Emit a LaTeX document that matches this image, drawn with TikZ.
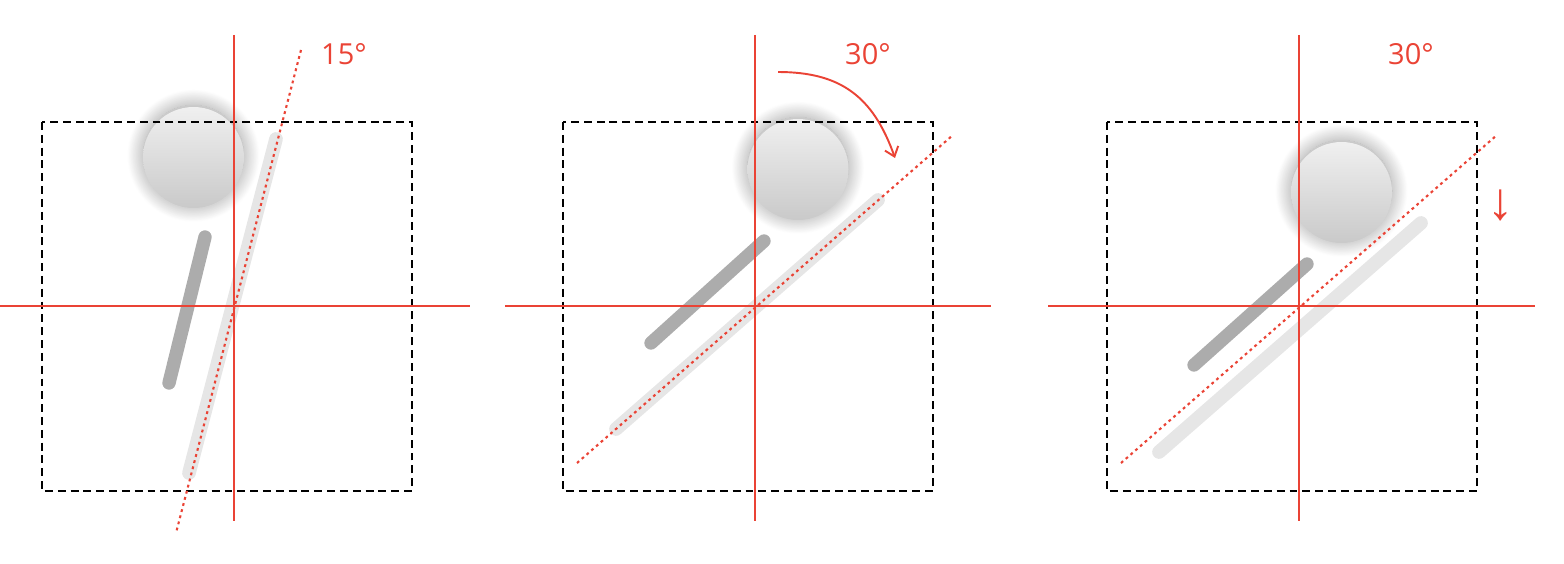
\documentclass[tikz,border=0pt]{standalone}
\usepackage{fontspec}
\setmainfont{Open Sans}
\newfontfamily\arrowfont{Liberation Sans}
\usetikzlibrary{arrows.meta, shadows.blur}

\definecolor{guidered}{RGB}{234,67,53}
\definecolor{stickdark}{RGB}{172,172,172}
\definecolor{sticklight}{RGB}{230,230,230}

\tikzset{
  frame/.style = {black, line width=1.1pt, dash pattern=on 4.5pt off 2.8pt},
  axis/.style = {guidered, line width=1.1pt},
  guide/.style = {guidered, line width=1.2pt, dash pattern=on 1.6pt off 2pt},
  stickdk/.style = {stickdark, line width=7.6pt, line cap=round},
  sticklt/.style = {sticklight, line width=7.8pt, line cap=round},
  ball/.style = {circle, minimum size=2.02cm, inner sep=0pt,
    top color=black!6, bottom color=black!21,
    blur shadow={shadow xshift=0pt, shadow yshift=1pt, shadow blur steps=30,
      shadow blur radius=9pt, shadow opacity=40, shadow scale=1}},
  anglelabel/.style = {text=guidered, font=\fontsize{16.5}{20}\selectfont},
}

\begin{document}
\begin{tikzpicture}[x=0.02cm, y=-0.02cm]
\useasboundingbox (0,0) rectangle (1564,564);

% first panel: 15 degrees
\coordinate (o1) at (234,306);
\coordinate (lt1a) at (276,139);
\coordinate (lt1b) at (189,473);
\coordinate (dk1a) at (205,237);
\coordinate (dk1b) at (169,383);
\draw[sticklt] (lt1a) -- (lt1b);
\draw[stickdk] (dk1a) -- (dk1b);
\node[ball] (ball1) at (193.5,157.5) {};
\draw[frame] (42,122) rectangle (412,491);
\draw[axis] (o1 |- 0,35) -- (o1 |- 0,521);
\draw[axis] (0,306) -- (470,306);
\draw[guide] (301,50) -- (176,533);
\node[anglelabel] (deg1) at (344,54) {15°};

% second panel: 30 degrees, rotated
\coordinate (o2) at (755,306);
\coordinate (lt2a) at (878,200);
\coordinate (lt2b) at (616,429);
\coordinate (dk2a) at (764,241);
\coordinate (dk2b) at (651,343);
\draw[sticklt] (lt2a) -- (lt2b);
\draw[stickdk] (dk2a) -- (dk2b);
\node[ball] (ball2) at (798,169.5) {};
\draw[frame] (563,122) rectangle (933,491);
\draw[axis] (o2 |- 0,35) -- (o2 |- 0,521);
\draw[axis] (505,306) -- (991,306);
\draw[guide] (577,463) -- (953,135);
\node[anglelabel] (deg2) at (868,54) {30°};
\coordinate (turn a) at (778,72);
\coordinate (turn b) at (895,158);
\draw[guidered, line width=1.1pt, -{Straight Barb[length=5pt, width=8pt]}]
  (turn a) .. controls (840,72) and (873,96) .. (turn b);

% third panel: 30 degrees, moved down
\coordinate (o3) at (1299,306);
\coordinate (lt3a) at (1421,223);
\coordinate (lt3b) at (1159,452);
\coordinate (dk3a) at (1307,264);
\coordinate (dk3b) at (1194,365);
\draw[sticklt] (lt3a) -- (lt3b);
\draw[stickdk] (dk3a) -- (dk3b);
\node[ball] (ball3) at (1341.5,192.5) {};
\draw[frame] (1107,122) rectangle (1477,491);
\draw[axis] (o3 |- 0,35) -- (o3 |- 0,521);
\draw[axis] (1048,306) -- (1535,306);
\draw[guide] (1121,463) -- (1497,135);
\node[anglelabel] (deg3) at (1411,54) {30°};
\node[text=guidered, font=\arrowfont\fontsize{30}{32}\selectfont] (down) at (1501,205) {↓};
\end{tikzpicture}
\end{document}
